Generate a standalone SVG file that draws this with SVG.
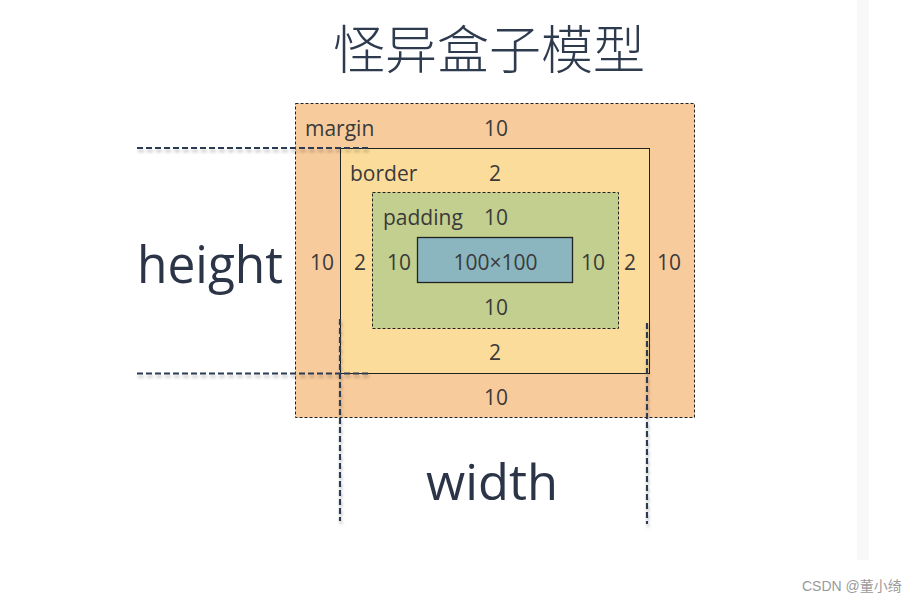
<svg xmlns="http://www.w3.org/2000/svg" width="916" height="602" viewBox="0 0 916 602">
  <defs>
    <filter id="shadow" x="-20%" y="-200%" width="140%" height="500%">
      <feDropShadow dx="1" dy="3" stdDeviation="1.6" flood-color="#000000" flood-opacity="0.25"/>
    </filter>
    <style>
      .lbl { font-family: "Open Sans", "Noto Sans", "Liberation Sans", sans-serif; font-size: 21px; fill: #3a3a3a; }
      .mid { text-anchor: middle; }
      .big { font-family: "Open Sans", "Noto Sans", "Liberation Sans", sans-serif; font-weight: 500; fill: #2b3547; }
      .guide { stroke: #2c3a52; stroke-width: 2.2; stroke-dasharray: 6 3; fill: none; }
      .dash { stroke: #222; stroke-width: 1; stroke-dasharray: 3 2; }
    </style>
  </defs>
  <rect width="916" height="602" fill="#ffffff"/>
  <rect x="857" y="0" width="12" height="560" fill="#f8f8f8"/>

  <text x="333" y="69" font-family="'Noto Sans CJK SC', sans-serif" font-size="52" font-weight="300" fill="#2e3a4e" textLength="312" lengthAdjust="spacingAndGlyphs">怪异盒子模型</text>

  <g id="margin">
    <rect x="295.5" y="103.5" width="399" height="314" fill="#f8cb9c" class="dash"/>
    <text class="lbl" x="305" y="136">margin</text>
    <text class="lbl mid" x="496" y="136">10</text>
    <text class="lbl mid" x="322" y="270">10</text>
    <text class="lbl mid" x="669" y="270">10</text>
    <text class="lbl mid" x="496" y="405">10</text>
  </g>

  <g id="border">
    <rect x="340.5" y="148.5" width="309" height="225" fill="#fcdc9a" stroke="#222" stroke-width="1"/>
    <text class="lbl" x="350" y="181">border</text>
    <text class="lbl mid" x="495" y="181">2</text>
    <text class="lbl mid" x="360" y="270">2</text>
    <text class="lbl mid" x="630" y="270">2</text>
    <text class="lbl mid" x="495" y="360">2</text>
  </g>

  <g id="padding">
    <rect x="372.5" y="192.5" width="246" height="136" fill="#c3cf8e" class="dash"/>
    <text class="lbl" x="383" y="225">padding</text>
    <text class="lbl mid" x="496" y="225">10</text>
    <text class="lbl mid" x="399" y="270">10</text>
    <text class="lbl mid" x="593" y="270">10</text>
    <text class="lbl mid" x="496" y="315">10</text>
  </g>

  <g id="content">
    <rect x="417.5" y="237.5" width="155" height="45" fill="#8bb6c0" stroke="#222" stroke-width="1.3"/>
    <text class="lbl mid" x="495.5" y="270">100×100</text>
  </g>

  <g id="connectors" filter="url(#shadow)">
    <line class="guide" x1="137" y1="148" x2="370" y2="148"/>
    <line class="guide" x1="137" y1="373.5" x2="370" y2="373.5"/>
    <line class="guide" x1="340" y1="319" x2="340" y2="521"/>
    <line class="guide" x1="647" y1="323" x2="647" y2="524"/>
  </g>

  <g id="labels">
    <text class="big" x="137" y="283" font-size="51" textLength="146" lengthAdjust="spacingAndGlyphs">height</text>
    <text class="big" x="426" y="500" font-size="49" textLength="132" lengthAdjust="spacingAndGlyphs">width</text>
  </g>

  <text x="802" y="591" font-family="'Liberation Sans', 'Noto Sans CJK SC', sans-serif" font-size="14" fill="#9a9a9a">CSDN @董小绮</text>
</svg>
